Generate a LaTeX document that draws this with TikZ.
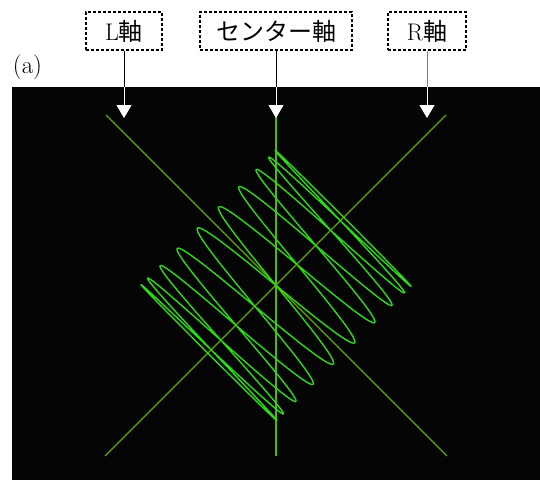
\documentclass[tikz,border=0pt]{standalone}
\usepackage{fontspec}
\newfontfamily\cjk{Noto Sans CJK JP}
\usetikzlibrary{arrows.meta}
\definecolor{verdeSenal}{RGB}{45,215,25}
\definecolor{verdeEje}{RGB}{100,165,0}
\definecolor{verdeCentro}{RGB}{85,185,0}
\definecolor{fondoOsc}{RGB}{5,5,5}
\begin{document}
\begin{tikzpicture}[x=1pt, y=-1pt,
    etiqueta/.style={draw, line width=1.5pt, dash pattern=on 3pt off 2pt,
        inner xsep=10pt, minimum height=38pt, font=\fontsize{24}{27}\selectfont},
    asta/.style={line width=1pt},
    flecha/.style={white, line width=1pt, -{Triangle[width=15pt, length=13pt]}},
    ejeD/.style={verdeEje, line width=1.3pt},
    ejeC/.style={verdeCentro, line width=2pt},
    senal/.style={verdeSenal, line width=1.4pt, line join=round}]
    \useasboundingbox (0,0) rectangle (540,480);
    % Pantalla
    \fill[fondoOsc] (11.5,86.5) rectangle (540,480);
    \coordinate (borde) at (0,86.5);
    \node[font=\fontsize{25}{28}\selectfont] (rotulo) at (27.5,67.5) {(a)};
    % Ejes
    \coordinate (centro) at (276,285.5);
    \coordinate (Lsup) at (106,115);
    \coordinate (Linf) at (447,456);
    \coordinate (Rinf) at (105,456);
    \coordinate (Rsup) at (446,115);
    \coordinate (Csup) at (276,116);
    \coordinate (Cinf) at (276,456);
    \draw[ejeD] (Lsup) -- (Linf);
    \draw[ejeD] (Rinf) -- (Rsup);
    \draw[ejeC] (Csup) -- (Cinf);
    % Figura de Lissajous
    \draw[senal] plot[domain=0:360, samples=1200, variable=\t]
        ({276+67.9*(sin(\t)-sin(10*\t))}, {285.5-67.9*(sin(\t)+sin(10*\t))});
    % Etiquetas
    \node[etiqueta, minimum width=76pt] (etiqL) at (124,31) {L{\cjk 軸}};
    \node[etiqueta, minimum width=152pt] (etiqC) at (276,31) {\cjk センター軸};
    \node[etiqueta, minimum width=78pt] (etiqR) at (427,31) {R{\cjk 軸}};
    % Flechas
    \coordinate (puntaL) at (124,118);
    \coordinate (puntaC) at (276,118);
    \coordinate (puntaR) at (427,118);
    \draw[asta] (etiqL.south) -- (etiqL.south |- borde);
    \draw[asta] (etiqC.south) -- (etiqC.south |- borde);
    \draw[asta, gray] (etiqR.south) -- (etiqR.south |- borde);
    \draw[flecha] (etiqL.south |- borde) -- (puntaL);
    \draw[flecha] (etiqC.south |- borde) -- (puntaC);
    \draw[flecha] (etiqR.south |- borde) -- (puntaR);
\end{tikzpicture}
\end{document}
